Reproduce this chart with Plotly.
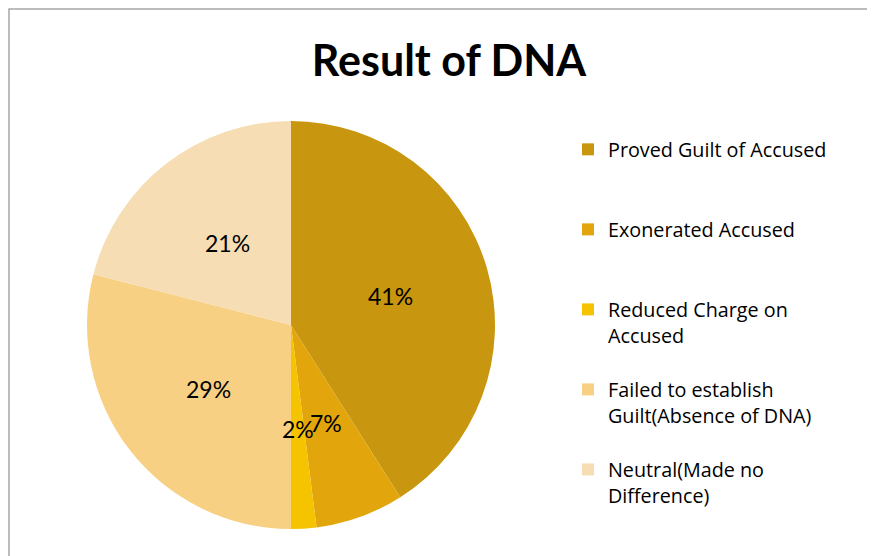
import math
import plotly.graph_objects as go

# Result of DNA - share of outcomes
labels = ['Proved Guilt of Accused',
          'Exonerated Accused',
          'Reduced Charge on<br>Accused',
          'Failed to establish<br>Guilt(Absence of DNA)',
          'Neutral(Made no<br>Difference)']
values = [41, 7, 2, 29, 21]
colors = ['#C8960F', '#E2A60C', '#F6C300', '#F8D083', '#F6DDB3']

OFF = 8                     # page body margin
W, H = 875 - OFF, 556 - OFF
cx, cy, R = 291 - OFF, 325 - OFF, 204   # pie centre / radius in px


def px_x(x):
    return (x - OFF) / W


def px_y(y):
    return 1 - (y - OFF) / H


# pad legend entries so every one takes three lines (even spacing like the original)
legend_text = []
for lab in labels:
    n = lab.count('<br>') + 1
    legend_text.append(lab + '<br>&nbsp;' * (3 - n))

dom_x = [(cx - R) / W, (cx + R) / W]
dom_y = [(H - cy - R) / H, (H - cy + R) / H]

fig = go.Figure(
    data=[
        go.Pie(
            labels=legend_text,
            values=values,
            sort=False,
            direction='clockwise',
            rotation=0,
            marker=dict(colors=colors, line=dict(width=0)),
            textinfo='none',
            hoverinfo='label+percent',
            domain=dict(x=dom_x, y=dom_y))
    ]
)

# percentage labels on the mid-angle of each slice, half way out
total = sum(values)
cum = 0
for v in values:
    mid = (cum + v / 2) / total * 2 * math.pi
    cum += v
    lx = cx + 0.51 * R * math.sin(mid)
    ly = cy - 0.51 * R * math.cos(mid)
    fig.add_annotation(
        x=lx / W, y=1 - ly / H, xref='paper', yref='paper',
        xanchor='center', yanchor='middle',
        text=f'{round(v / total * 100)}%', showarrow=False,
        font=dict(family='Lato', size=23, color='black'))

fig.add_shape(type='rect', xref='paper', yref='paper',
              x0=px_x(9), x1=1.05, y0=-0.05, y1=px_y(9),
              line=dict(color='#A6A6A6', width=1.5))

fig.update_layout(
    width=W, height=H,
    margin=dict(l=0, r=0, t=0, b=0),
    paper_bgcolor='white',
    plot_bgcolor='white',
    title=dict(text='<b>Result of DNA</b>', x=px_x(449), xanchor='center',
               y=px_y(61), yanchor='middle',
               font=dict(family='Lato', size=43, color='black')),
    legend=dict(x=px_x(568), xanchor='left', y=px_y(130), yanchor='top',
                valign='top', font=dict(family='Open Sans', size=19.75, color='black'),
                bgcolor='rgba(0,0,0,0)'),
    showlegend=True,
)

fig.write_html('out.html')
